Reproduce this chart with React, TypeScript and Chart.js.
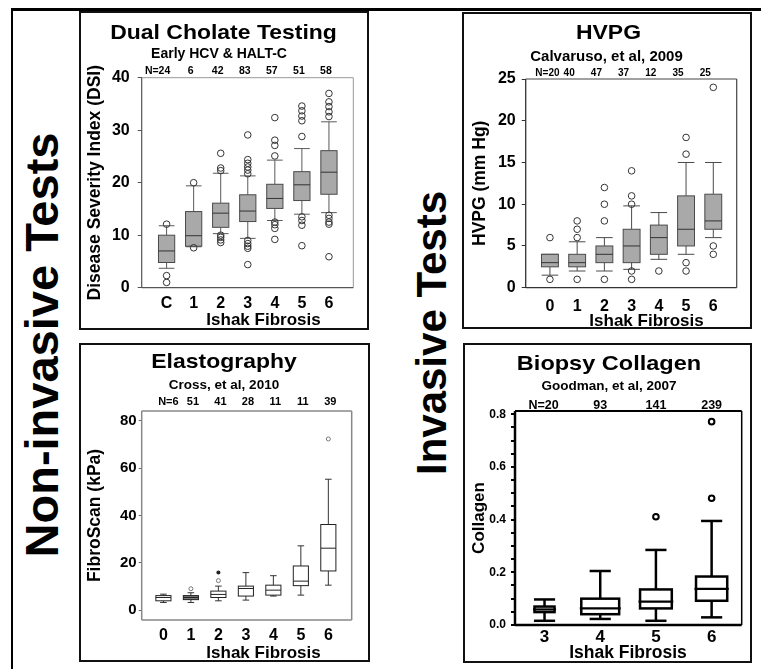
import React, { useEffect, useRef } from 'react';
import { Chart, registerables } from 'chart.js';

Chart.register(...registerables);

const FONT = '"Liberation Sans", Arial, Helvetica, sans-serif';

// ---------------- Dual Cholate Testing ----------------
const dctCategories = ['C', '1', '2', '3', '4', '5', '6'];
const dctCounts = ['N=24', '6', '42', '83', '57', '51', '58'];
const dctLowerWhisker = [3.7, 7.8, 10.3, 9.4, 12.8, 14.0, 14.3];
const dctQ1 = [4.8, 7.9, 11.5, 12.6, 15.1, 16.6, 17.8];
const dctMedian = [7.0, 9.9, 14.2, 14.6, 17.0, 19.6, 22.0];
const dctQ3 = [10.0, 14.5, 16.1, 17.7, 19.7, 22.1, 26.1];
const dctUpperWhisker = [11.8, 19.4, 21.8, 21.3, 24.3, 26.5, 31.6];
const dctOutliers = [
  [12.1, 2.3, 1.0],
  [20.0, 7.6],
  [25.6, 22.8, 22.3, 10.0, 9.6, 9.1, 8.6],
  [29.1, 24.4, 23.7, 23.0, 22.4, 21.7, 9.0, 8.4, 7.9, 7.5, 4.4],
  [32.4, 28.1, 27.1, 25.1, 12.5, 12.0, 11.3, 9.2],
  [34.6, 33.7, 32.7, 31.8, 28.8, 13.5, 12.8, 11.9, 8.0],
  [37.0, 35.4, 34.5, 33.5, 32.6, 13.8, 13.2, 12.5, 12.1, 5.9],
];
const dctYTicks = [0, 10, 20, 30, 40];

// ---------------- HVPG ----------------
const hvpgCategories = ['0', '1', '2', '3', '4', '5', '6'];
const hvpgCounts = ['N=20', '40', '47', '37', '12', '35', '25'];
const hvpgLowerWhisker = [1.5, 2.0, 2.0, 2.2, 3.4, 4.0, 6.0];
const hvpgQ1 = [2.5, 2.5, 3.0, 3.0, 4.0, 5.0, 7.0];
const hvpgMedian = [3.0, 3.0, 4.0, 5.0, 6.0, 7.0, 8.0];
const hvpgQ3 = [4.0, 4.0, 5.0, 7.0, 7.5, 11.0, 11.2];
const hvpgUpperWhisker = [4.0, 5.5, 6.0, 9.8, 9.0, 15.0, 15.0];
const hvpgOutliers = [
  [6, 1],
  [8, 7, 6, 1],
  [12, 10, 8, 1],
  [14, 11, 10, 2, 1],
  [2],
  [18, 16, 3, 2],
  [24, 5, 4],
];
const hvpgYTicks = [0, 5, 10, 15, 20, 25];

// ---------------- Elastography ----------------
const elaCategories = ['0', '1', '2', '3', '4', '5', '6'];
const elaCounts = ['N=6', '51', '41', '28', '11', '11', '39'];
const elaLowerWhisker = [3.3, 3.3, 4.0, 4.3, 6.0, 6.4, 10.6];
const elaQ1 = [4.0, 4.5, 5.4, 6.0, 6.4, 10.4, 16.6];
const elaMedian = [5.4, 5.4, 6.7, 9.2, 8.5, 12.3, 26.2];
const elaQ3 = [6.2, 6.2, 8.1, 10.2, 10.6, 18.7, 36.2];
const elaUpperWhisker = [6.8, 7.4, 10.2, 15.9, 14.6, 27.2, 55.3];
const elaOutliers = [[], [9.1], [12.5], [], [], [], [72.3]];
const elaExtremes = [[], [], [15.9], [], [], [], []];
const elaYTicks = [0, 20, 40, 60, 80];

// ---------------- Biopsy Collagen ----------------
const colCategories = ['3', '4', '5', '6'];
const colCounts = ['N=20', '93', '141', '239'];
const colLowerWhisker = [0.016, 0.023, 0.016, 0.029];
const colQ1 = [0.049, 0.041, 0.063, 0.092];
const colMedian = [0.059, 0.063, 0.089, 0.137];
const colQ3 = [0.07, 0.1, 0.135, 0.184];
const colUpperWhisker = [0.097, 0.205, 0.285, 0.395];
const colOutliers = [[], [], [0.411], [0.481, 0.772]];
const colYTicks = [0, 0.05, 0.1, 0.15, 0.2, 0.25, 0.3, 0.35, 0.4, 0.45, 0.5, 0.55, 0.6, 0.65, 0.7, 0.75, 0.8];

const panels: any[] = [
  {
    key: 'dct',
    frame: { left: 79, top: 11, width: 290, height: 319 },
    area: { left: 141.7, top: 77.7, right: 353.3, bottom: 287.7 },
    xRange: [-0.92, 6.9],
    yRange: [0, 40],
    categories: dctCategories,
    positions: dctCategories.map((_, i) => i),
    counts: dctCounts,
    lower: dctLowerWhisker, q1: dctQ1, median: dctMedian, q3: dctQ3, upper: dctUpperWhisker,
    outliers: dctOutliers, extremes: null,
    yTicks: dctYTicks,
    yLabel: (v: number) => String(v),
    title: 'Dual Cholate Testing', subtitle: 'Early HCV & HALT-C',
    yTitle: 'Disease Severity Index (DSI)', xTitle: 'Ishak Fibrosis',
    text: {
      titleX: 223.5, titleY: 38.5, titleSize: 20.5, titleStretch: 1.12,
      subX: 219, subY: 58.3, subSize: 14,
      nY: 73.5, nSize: 10.5, nDx: -3, nFirstDx: -9,
      yTitleX: 95, yTitleY: 182.7, yTitleSize: 17.5,
      xTitleX: 263.5, xTitleY: 325, xTitleSize: 17,
      yTickSize: 16, xTickSize: 16, yTickPad: 8, xTickPad: -1.3, tickLen: 4, tickColor: '#555', tickWidth: 1,
    },
    style: {
      boxWidth: [0.6, 0.6, 0.6, 0.6, 0.6, 0.6, 0.6], capWidth: 0.58,
      fills: ['#a9a9a9', '#a9a9a9', '#a9a9a9', '#a9a9a9', '#a9a9a9', '#a9a9a9', '#a9a9a9'],
      boxStroke: '#4a4a4a', boxLineWidth: 1, whisker: '#5a5a5a', whiskerWidth: 1,
      median: '#333', medianWidth: 1, medianExtend: 0,
      frameLeft: ['#555', 1.2], frameBottom: ['#555', 1.2], frameTop: ['#999', 1], frameRight: ['#999', 1],
      outRadius: 3.3, outWidth: 1, outColor: '#333', outFill: 'rgba(255,255,255,0)',
    },
  },
  {
    key: 'hvpg',
    frame: { left: 462, top: 12, width: 290, height: 317 },
    area: { left: 525.7, top: 79, right: 736.7, bottom: 287.7 },
    xRange: [-0.89, 6.86],
    yRange: [0, 25],
    categories: hvpgCategories,
    positions: hvpgCategories.map((_, i) => i),
    counts: hvpgCounts,
    lower: hvpgLowerWhisker, q1: hvpgQ1, median: hvpgMedian, q3: hvpgQ3, upper: hvpgUpperWhisker,
    outliers: hvpgOutliers, extremes: null,
    yTicks: hvpgYTicks,
    yLabel: (v: number) => String(v),
    title: 'HVPG', subtitle: 'Calvaruso, et al, 2009',
    yTitle: 'HVPG (mm Hg)', xTitle: 'Ishak Fibrosis',
    text: {
      titleX: 608.5, titleY: 39, titleSize: 20.5, titleStretch: 1.12,
      subX: 606.5, subY: 60.7, subSize: 15,
      nY: 76, nSize: 10, nDx: -8, nFirstDx: -2.5,
      yTitleX: 480.5, yTitleY: 183.3, yTitleSize: 17.5,
      xTitleX: 646.5, xTitleY: 325.5, xTitleSize: 17,
      yTickSize: 16, xTickSize: 16, yTickPad: 6, xTickPad: 0.8, tickLen: 4, tickColor: '#333', tickWidth: 1,
    },
    style: {
      boxWidth: [0.62, 0.62, 0.62, 0.62, 0.62, 0.62, 0.62], capWidth: 0.61,
      fills: ['#a9a9a9', '#a9a9a9', '#a9a9a9', '#a9a9a9', '#a9a9a9', '#a9a9a9', '#a9a9a9'],
      boxStroke: '#4a4a4a', boxLineWidth: 1, whisker: '#4a4a4a', whiskerWidth: 1,
      median: '#333', medianWidth: 1, medianExtend: 0,
      frameLeft: ['#333', 1.3], frameBottom: ['#333', 1.3], frameTop: ['#444', 1.2], frameRight: ['#444', 1.2],
      outRadius: 3.3, outWidth: 1, outColor: '#333', outFill: 'rgba(255,255,255,0)',
    },
  },
  {
    key: 'ela',
    frame: { left: 79, top: 343, width: 291, height: 319 },
    area: { left: 141.7, top: 411, right: 351.7, bottom: 620 },
    xRange: [-0.79, 6.85],
    yRange: [-4.1, 84.1],
    categories: elaCategories,
    positions: elaCategories.map((_, i) => i),
    counts: elaCounts,
    lower: elaLowerWhisker, q1: elaQ1, median: elaMedian, q3: elaQ3, upper: elaUpperWhisker,
    outliers: elaOutliers, extremes: elaExtremes,
    yTicks: elaYTicks,
    yLabel: (v: number) => String(v),
    title: 'Elastography', subtitle: 'Cross, et al, 2010',
    yTitle: 'FibroScan (kPa)', xTitle: 'Ishak Fibrosis',
    text: {
      titleX: 224, titleY: 367.7, titleSize: 20.5, titleStretch: 1.12,
      subX: 224, subY: 389.3, subSize: 13.5,
      nY: 405, nSize: 11, nDx: 2, nFirstDx: 5,
      yTitleX: 95, yTitleY: 515.5, yTitleSize: 17.5,
      xTitleX: 263.5, xTitleY: 658, xTitleSize: 17,
      yTickSize: 15, xTickSize: 16, yTickPad: 2, xTickPad: -1.6, tickLen: 3, tickColor: '#666', tickWidth: 1,
    },
    style: {
      boxWidth: [0.55, 0.55, 0.55, 0.55, 0.55, 0.55, 0.55], capWidth: 0.24,
      fills: ['#ffffff', '#7a7a7a', '#ffffff', '#ffffff', '#ffffff', '#ffffff', '#ffffff'],
      boxStroke: '#222', boxLineWidth: 1, whisker: '#333', whiskerWidth: 1,
      median: '#222', medianWidth: 1, medianExtend: 0,
      frameLeft: ['#888', 1.5], frameBottom: ['#888', 1.5], frameTop: ['#888', 1.5], frameRight: ['#888', 1.5],
      outRadius: 2, outWidth: 1, outColor: '#777', outFill: 'rgba(255,255,255,0)',
      extRadius: 2, extColor: '#222',
    },
  },
  {
    key: 'col',
    frame: { left: 463, top: 343, width: 289, height: 320 },
    area: { left: 515, top: 411, right: 741.7, bottom: 625 },
    xRange: [2.47, 6.54],
    yRange: [0, 0.8125],
    categories: colCategories,
    positions: colCategories.map((c) => Number(c)),
    counts: colCounts,
    lower: colLowerWhisker, q1: colQ1, median: colMedian, q3: colQ3, upper: colUpperWhisker,
    outliers: colOutliers, extremes: null,
    yTicks: colYTicks,
    yLabel: (v: number) => (Math.abs(v * 5 - Math.round(v * 5)) < 1e-6 ? v.toFixed(1) : ''),
    title: 'Biopsy Collagen', subtitle: 'Goodman, et al, 2007',
    yTitle: 'Collagen', xTitle: 'Ishak Fibrosis',
    text: {
      titleX: 609, titleY: 369.5, titleSize: 21, titleStretch: 1.12,
      subX: 609, subY: 390, subSize: 13.5,
      nY: 408.5, nSize: 12.5, nDx: 0, nFirstDx: -1,
      yTitleX: 479.5, yTitleY: 518, yTitleSize: 17,
      xTitleX: 628, xTitleY: 658.3, xTitleSize: 17.5,
      yTickSize: 12, xTickSize: 17, yTickPad: 5, xTickPad: -6, tickLen: 4, tickColor: '#000', tickWidth: 2,
    },
    style: {
      boxWidth: [0.36, 0.68, 0.57, 0.56], capWidth: 0.38,
      fills: ['#ffffff', '#ffffff', '#ffffff', '#ffffff'],
      boxStroke: '#000', boxLineWidth: 2.5, whisker: '#000', whiskerWidth: 2.5,
      median: '#000', medianWidth: 2.2, medianExtend: 1.5,
      frameLeft: ['#000', 2.5], frameBottom: ['#000', 2.5], frameTop: ['#000', 2], frameRight: ['#000', 1.5],
      outRadius: 2.8, outWidth: 2, outColor: '#000', outFill: '#ffffff',
    },
  },
];

function PanelChart({ p }: { p: any }) {
  const ref = useRef<HTMLCanvasElement>(null);
  const cw = p.frame.width - 4;
  const ch = p.frame.height - 4;
  const ox = p.frame.left + 2;
  const oy = p.frame.top + 2;

  useEffect(() => {
    const canvas = ref.current;
    if (!canvas) return;
    const a = {
      left: p.area.left - ox,
      top: p.area.top - oy,
      right: p.area.right - ox,
      bottom: p.area.bottom - oy,
    };
    const t = p.text;
    const s = p.style;

    const line = (ctx: any, x1: number, y1: number, x2: number, y2: number, color: string, w: number) => {
      ctx.beginPath();
      ctx.strokeStyle = color;
      ctx.lineWidth = w;
      ctx.moveTo(x1, y1);
      ctx.lineTo(x2, y2);
      ctx.stroke();
    };

    const boxPlugin = {
      id: 'boxplot-' + p.key,
      beforeDatasetsDraw(chart: any) {
        const { ctx, chartArea: ca } = chart;
        const xs = chart.scales.x;
        const ys = chart.scales.y;
        ctx.save();
        line(ctx, ca.left, ca.top, ca.right, ca.top, s.frameTop[0], s.frameTop[1]);
        line(ctx, ca.right, ca.top, ca.right, ca.bottom, s.frameRight[0], s.frameRight[1]);
        line(ctx, ca.left, ca.top, ca.left, ca.bottom, s.frameLeft[0], s.frameLeft[1]);
        line(ctx, ca.left, ca.bottom, ca.right, ca.bottom, s.frameBottom[0], s.frameBottom[1]);
        p.positions.forEach((pos: number, i: number) => {
          const cx = xs.getPixelForValue(pos);
          const hb = Math.abs(xs.getPixelForValue(pos + s.boxWidth[i] / 2) - cx);
          const hc = Math.abs(xs.getPixelForValue(pos + s.capWidth / 2) - cx);
          const yLo = ys.getPixelForValue(p.lower[i]);
          const yQ1 = ys.getPixelForValue(p.q1[i]);
          const yMed = ys.getPixelForValue(p.median[i]);
          const yQ3 = ys.getPixelForValue(p.q3[i]);
          const yHi = ys.getPixelForValue(p.upper[i]);
          line(ctx, cx, yQ3, cx, yHi, s.whisker, s.whiskerWidth);
          line(ctx, cx, yQ1, cx, yLo, s.whisker, s.whiskerWidth);
          line(ctx, cx - hc, yHi, cx + hc, yHi, s.whisker, s.whiskerWidth);
          line(ctx, cx - hc, yLo, cx + hc, yLo, s.whisker, s.whiskerWidth);
          ctx.fillStyle = s.fills[i];
          ctx.fillRect(cx - hb, yQ3, 2 * hb, yQ1 - yQ3);
          ctx.strokeStyle = s.boxStroke;
          ctx.lineWidth = s.boxLineWidth;
          ctx.strokeRect(cx - hb, yQ3, 2 * hb, yQ1 - yQ3);
          line(ctx, cx - hb - s.medianExtend, yMed, cx + hb + s.medianExtend, yMed, s.median, s.medianWidth);
        });
        ctx.restore();
      },
      afterDraw(chart: any) {
        const ctx = chart.ctx;
        const xs = chart.scales.x;
        ctx.save();
        ctx.fillStyle = '#000';
        ctx.textAlign = 'center';
        ctx.textBaseline = 'alphabetic';
        ctx.save();
        ctx.font = `bold ${t.titleSize}px ${FONT}`;
        ctx.translate(t.titleX - ox, t.titleY - oy);
        ctx.scale(t.titleStretch, 1);
        ctx.fillText(p.title, 0, 0);
        ctx.restore();
        ctx.font = `bold ${t.subSize}px ${FONT}`;
        ctx.fillText(p.subtitle, t.subX - ox, t.subY - oy);
        ctx.font = `bold ${t.nSize}px ${FONT}`;
        p.counts.forEach((c: string, i: number) => {
          const x = xs.getPixelForValue(p.positions[i]) + (i === 0 ? t.nFirstDx : t.nDx);
          ctx.fillText(c, x, t.nY - oy);
        });
        ctx.font = `bold ${t.xTitleSize}px ${FONT}`;
        ctx.fillText(p.xTitle, t.xTitleX - ox, t.xTitleY - oy);
        ctx.save();
        ctx.translate(t.yTitleX - ox, t.yTitleY - oy);
        ctx.rotate(-Math.PI / 2);
        ctx.textBaseline = 'middle';
        ctx.font = `bold ${t.yTitleSize}px ${FONT}`;
        ctx.fillText(p.yTitle, 0, 0);
        ctx.restore();
        ctx.restore();
      },
    };

    const outlierPoints: any[] = [];
    p.outliers.forEach((vals: number[], i: number) => {
      vals.forEach((v) => outlierPoints.push({ x: p.positions[i], y: v }));
    });
    const datasets: any[] = [
      {
        label: 'outliers',
        data: outlierPoints,
        pointStyle: 'circle',
        pointRadius: s.outRadius,
        pointBorderWidth: s.outWidth,
        pointBorderColor: s.outColor,
        pointBackgroundColor: s.outFill,
        pointHoverRadius: s.outRadius,
        showLine: false,
      },
    ];
    if (p.extremes) {
      const extPoints: any[] = [];
      p.extremes.forEach((vals: number[], i: number) => {
        vals.forEach((v) => extPoints.push({ x: p.positions[i], y: v }));
      });
      datasets.push({
        label: 'extremes',
        data: extPoints,
        pointStyle: 'circle',
        pointRadius: s.extRadius,
        pointBorderWidth: 0,
        pointBackgroundColor: s.extColor,
        pointBorderColor: s.extColor,
        showLine: false,
      });
    }

    const chart = new Chart(canvas, {
      type: 'scatter',
      data: { datasets },
      options: {
        responsive: false,
        animation: false,
        devicePixelRatio: 1,
        events: [],
        layout: { padding: { left: 0, top: a.top, right: cw - a.right, bottom: 0 } },
        plugins: {
          legend: { display: false },
          tooltip: { enabled: false },
          title: { display: false },
        },
        scales: {
          x: {
            type: 'linear',
            position: 'bottom',
            min: p.xRange[0],
            max: p.xRange[1],
            afterFit: (sc: any) => {
              sc.height = ch - a.bottom;
            },
            afterBuildTicks: (sc: any) => {
              sc.ticks = p.positions.map((v: number) => ({ value: v }));
            },
            ticks: {
              autoSkip: false,
              maxRotation: 0,
              padding: t.xTickPad,
              color: '#000',
              font: { family: FONT, size: t.xTickSize, weight: 'bold' },
              callback: (v: any) => {
                const idx = p.positions.indexOf(Number(v));
                return idx >= 0 ? p.categories[idx] : '';
              },
            },
            grid: { display: false },
            border: { display: false },
          },
          y: {
            type: 'linear',
            min: p.yRange[0],
            max: p.yRange[1],
            afterFit: (sc: any) => {
              sc.width = a.left;
            },
            afterBuildTicks: (sc: any) => {
              sc.ticks = p.yTicks.map((v: number) => ({ value: v }));
            },
            ticks: {
              autoSkip: false,
              padding: t.yTickPad,
              color: '#000',
              font: { family: FONT, size: t.yTickSize, weight: 'bold' },
              callback: (v: any) => p.yLabel(Number(v)),
            },
            grid: {
              display: true,
              drawOnChartArea: false,
              drawTicks: true,
              tickLength: t.tickLen,
              color: t.tickColor,
              lineWidth: t.tickWidth,
            },
            border: { display: false },
          },
        },
      } as any,
      plugins: [boxPlugin],
    });
    return () => chart.destroy();
  }, []);

  return (
    <div
      style={{
        position: 'absolute',
        left: p.frame.left,
        top: p.frame.top,
        width: p.frame.width,
        height: p.frame.height,
        border: '2px solid #111',
        boxSizing: 'border-box',
        background: '#fff',
      }}
    >
      <canvas
        ref={ref}
        width={cw}
        height={ch}
        style={{ position: 'absolute', left: 0, top: 0, width: cw, height: ch }}
      />
    </div>
  );
}

export default function App() {
  return (
    <div
      style={{
        position: 'absolute',
        left: 0,
        top: 0,
        width: 761,
        height: 669,
        background: '#fff',
        overflow: 'hidden',
        fontFamily: FONT,
      }}
    >
      <div style={{ position: 'absolute', left: 11, top: 7.5, width: 750, height: 3, background: '#000' }} />
      <div style={{ position: 'absolute', left: 11, top: 7.5, width: 2, height: 662, background: '#000' }} />
      <div
        style={{
          position: 'absolute',
          left: 41,
          top: 345,
          transform: 'translate(-50%, -50%) rotate(-90deg)',
          font: `bold 47px ${FONT}`,
          lineHeight: 1,
          whiteSpace: 'nowrap',
          color: '#000',
        }}
      >
        Non-invasive Tests
      </div>
      <div
        style={{
          position: 'absolute',
          left: 432,
          top: 333,
          transform: 'translate(-50%, -50%) rotate(-90deg)',
          font: `bold 42px ${FONT}`,
          lineHeight: 1,
          whiteSpace: 'nowrap',
          color: '#000',
        }}
      >
        Invasive Tests
      </div>
      {panels.map((p) => (
        <PanelChart key={p.key} p={p} />
      ))}
    </div>
  );
}
